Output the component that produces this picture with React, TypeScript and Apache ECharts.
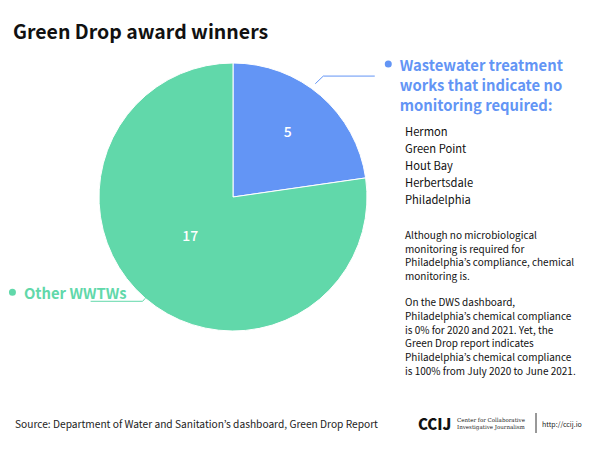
import React, { useEffect, useRef } from 'react';
import * as echarts from 'echarts';

const titleText = 'Green Drop award winners';
const categories = ['Wastewater treatment works that indicate no monitoring required:', 'Other WWTWs'];
const values = [5, 17];
const colors = ['#6395f5', '#61d8aa'];
const blueLabelLines = ['Wastewater treatment', 'works that indicate no', 'monitoring required:'];
const greenLabel = 'Other WWTWs';
const winners = ['Hermon', 'Green Point', 'Hout Bay', 'Herbertsdale', 'Philadelphia'];
const noteLines1 = [
  'Although no microbiological',
  'monitoring is required for',
  'Philadelphia’s compliance, chemical',
  'monitoring is.',
];
const noteLines2 = [
  'On the DWS dashboard,',
  'Philadelphia’s chemical compliance',
  'is 0% for 2020 and 2021. Yet, the',
  'Green Drop report indicates',
  'Philadelphia’s chemical compliance',
  'is 100% from July 2020 to June 2021.',
];
const sourceText = 'Source: Department of Water and Sanitation’s dashboard, Green Drop Report';
const logoText = 'CCIJ';
const logoSub = ['Center for Collaborative', 'Investigative Journalism'];
const logoUrl = 'http://ccij.io';

const FONT = '"Noto Sans CJK KR", "Noto Sans", sans-serif';

export default function App() {
  const ref = useRef<HTMLDivElement>(null);
  useEffect(() => {
    if (!ref.current) return;
    const chart = echarts.init(ref.current, null, { renderer: 'svg' });
    const center = [233, 197];
    const radius = 134;

    const innerData = values.map((v, i) => ({
      value: v,
      name: categories[i],
      itemStyle: { color: colors[i] },
    }));

    const outerData = values.map((v, i) => ({
      value: v,
      name: categories[i],
      itemStyle: { color: 'rgba(0,0,0,0)', borderWidth: 0 },
      label:
        i === 0
          ? {
              distanceToLabelLine: 10,
              padding: [16, 0, 0, 0],
            }
          : {
              distanceToLabelLine: -36,
              padding: [0, 0, 18, 0],
            },
      labelLine:
        i === 0
          ? { length: 26, length2: 37, lineStyle: { color: colors[0], width: 1 } }
          : { length: 4, length2: 52, lineStyle: { color: colors[1], width: 1 } },
    }));

    chart.setOption({
      animation: false,
      title: {
        text: titleText,
        left: 13,
        top: 17,
        padding: 0,
        textStyle: { fontFamily: FONT, fontSize: 19.5, fontWeight: 'bold', color: '#111', lineHeight: 26 },
      },
      series: [
        {
          type: 'pie',
          center,
          radius,
          startAngle: 90,
          clockwise: true,
          silent: true,
          data: innerData,
          itemStyle: { borderColor: '#fff', borderWidth: 1 },
          label: {
            show: true,
            position: 'inside',
            formatter: '{c}',
            color: '#fff',
            fontFamily: FONT,
            fontSize: 14,
            fontWeight: 500,
          },
          labelLine: { show: false },
          labelLayout: (p: any) => (p.dataIndex === 0 ? { dx: 9, dy: -13 } : { dx: 3, dy: -15 }),
        },
        {
          type: 'pie',
          center,
          radius,
          startAngle: 90,
          clockwise: true,
          silent: true,
          avoidLabelOverlap: false,
          z: 3,
          data: outerData,
          label: {
            show: true,
            position: 'outside',
            fontFamily: FONT,
            formatter: (p: any) => {
              if (p.dataIndex === 0) {
                return blueLabelLines
                  .map((l, k) => (k === 0 ? `{db|}{g|}{tb|${l}}` : `{s|}{tb|${l}}`))
                  .join('\n');
              }
              return `{dg|}{g|}{tg|${greenLabel}}`;
            },
            rich: {
              db: { width: 7, height: 7, borderRadius: 3.5, backgroundColor: colors[0] },
              dg: { width: 7, height: 7, borderRadius: 3.5, backgroundColor: colors[1] },
              g: { width: 8 },
              s: { width: 15 },
              tb: { color: colors[0], fontFamily: FONT, fontSize: 14.8, fontWeight: 'bold', lineHeight: 20 },
              tg: { color: colors[1], fontFamily: FONT, fontSize: 14.8, fontWeight: 'bold', lineHeight: 20 },
            },
          },
          labelLine: { show: true, smooth: false },
          labelLayout: (p: any) => {
            const pts = p.labelLinePoints;
            if (p.dataIndex !== 0 || !pts || pts.length < 3) return {};
            const a = (36 * Math.PI) / 180;
            const r = radius + 6;
            const p0 = [center[0] + r * Math.sin(a), center[1] - r * Math.cos(a)];
            const end = pts[pts.length - 1];
            const p1 = [p0[0] + 8, end[1]];
            return { labelLinePoints: [p0, p1, [end[0], end[1]]] };
          },
        },
      ],
      graphic: [
        {
          type: 'text',
          left: 405,
          top: 122,
          style: {
            text: winners.join('\n'),
            fontFamily: FONT,
            fontSize: 11.2,
            lineHeight: 17,
            fill: '#111',
          },
        },
        {
          type: 'text',
          left: 405,
          top: 228,
          style: {
            text: noteLines1.join('\n'),
            fontFamily: FONT,
            fontSize: 10,
            lineHeight: 13.5,
            fill: '#111',
          },
        },
        {
          type: 'text',
          left: 405,
          top: 295,
          style: {
            text: noteLines2.join('\n'),
            fontFamily: FONT,
            fontSize: 10,
            lineHeight: 13.7,
            fill: '#111',
          },
        },
        {
          type: 'text',
          left: 15,
          top: 416,
          style: { text: sourceText, fontFamily: FONT, fontSize: 10.2, lineHeight: 14, fill: '#222' },
        },
        {
          type: 'text',
          left: 418,
          top: 414,
          style: { text: logoText, fontFamily: FONT, fontSize: 15, fontWeight: 900, lineHeight: 18, fill: '#111' },
        },
        {
          type: 'text',
          left: 457,
          top: 416,
          style: {
            text: logoSub.join('\n'),
            fontFamily: '"DejaVu Serif", serif',
            fontSize: 5.5,
            lineHeight: 7,
            fill: '#222',
          },
        },
        {
          type: 'line',
          shape: { x1: 536, y1: 413, x2: 536, y2: 433 },
          style: { stroke: '#333', lineWidth: 1 },
        },
        {
          type: 'text',
          left: 542,
          top: 419,
          style: { text: logoUrl, fontFamily: FONT, fontSize: 7, lineHeight: 9, fill: '#222' },
        },
      ],
    });
    return () => chart.dispose();
  }, []);
  return (
    <div
      ref={ref}
      style={{ position: 'fixed', left: 0, top: 0, width: 600, height: 450, background: '#fff' }}
    />
  );
}
